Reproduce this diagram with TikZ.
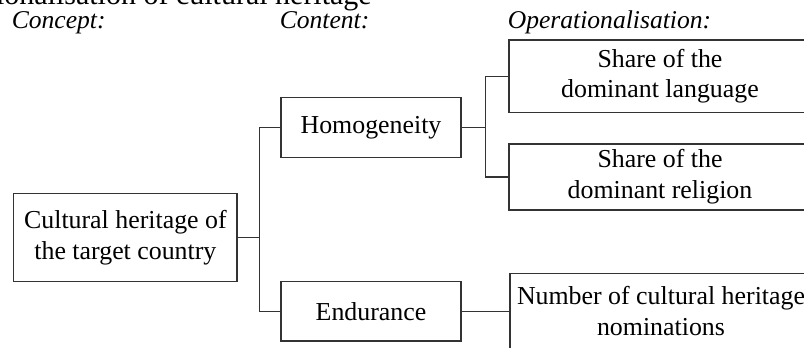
\documentclass[tikz,border=0pt]{standalone}
\usepackage{fontspec}
\setmainfont{Liberation Serif}
\usetikzlibrary{positioning}

\begin{document}
\begin{tikzpicture}[x=0.75pt,y=-0.75pt,
		box/.style={draw=black!80, line width=0.9pt, align=center, inner sep=0pt, font=\fontsize{19.4}{23}\selectfont},
		head/.style={anchor=base west, inner sep=0pt, font=\fontsize{19.2}{23}\selectfont\itshape},
		link/.style={draw=black!80, line width=0.9pt}]
		\useasboundingbox (0,0) rectangle (804,348);
		\clip (0,0) rectangle (804,348);

		\node[anchor=base east, inner sep=0pt, font=\fontsize{22.5}{23}\selectfont] (title) at (372,5) {Operationalisation of cultural heritage};

		\node[head] (hconcept) at (11.5,28.3) {Concept:};
		\node[head] (hcontent) at (279.5,28.3) {Content:};
		\node[head] (hoper) at (507.5,28.3) {Operationalisation:};

		\node[box, minimum width=167.3pt, minimum height=66.3pt] (heritage) at (125.4,237.5) {Cultural heritage of\\the target country};

		\node[box, minimum width=135pt, minimum height=45pt] (homog) at (371,127.7) {Homogeneity};
		\node[box, minimum width=135pt, minimum height=44.5pt] (endur) at (371,311.3) {Endurance};

		\node[box, minimum width=226.5pt, minimum height=54.2pt] (lang) at (660,76.2) {Share of the\\dominant language};
		\node[box, minimum width=226.5pt, minimum height=49.5pt] (relig) at (660,177) {Share of the\\dominant religion};
		\node[box, minimum width=226.5pt, minimum height=56.5pt] (nomin) at (661,311.3) {Number of cultural heritage\\nominations};

		\draw[link] (heritage.east) -- ++(22,0) coordinate (split1) |- (homog.west);
		\draw[link] (split1) |- (endur.west);
		\draw[link] (homog.east) -- ++(24,0) coordinate (split2) |- (lang.west);
		\draw[link] (split2) |- (relig.west);
		\draw[link] (endur.east) -- (nomin.west);
	\end{tikzpicture}
\end{document}
